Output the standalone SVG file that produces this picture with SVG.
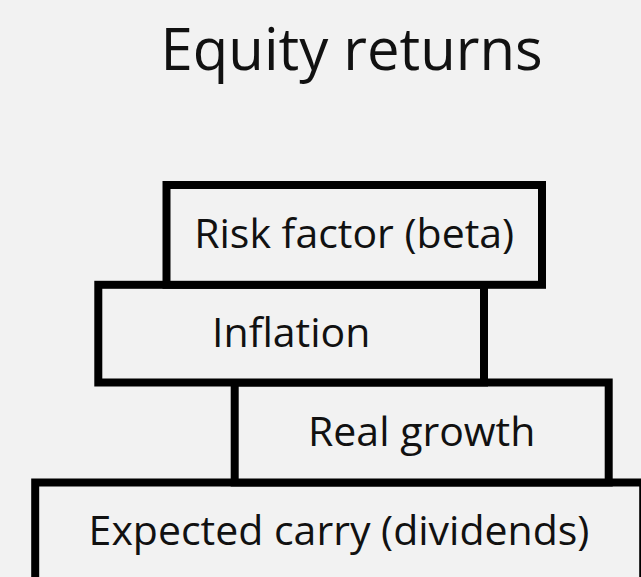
<svg xmlns="http://www.w3.org/2000/svg" width="641" height="577" viewBox="0 0 641 577">
  <style>
    .box { fill: #f2f2f2; stroke: #000000; stroke-width: 8; }
    .lbl { font-family: "Open Sans", "Noto Sans", "DejaVu Sans", sans-serif; font-size: 41px; fill: #111111; text-anchor: middle; }
    .title { font-family: "Open Sans", "Noto Sans", "DejaVu Sans", sans-serif; font-size: 58px; fill: #111111; text-anchor: middle; }
  </style>
  <rect x="0" y="0" width="641" height="577" fill="#f2f2f2"/>
  <text class="title" x="351.7" y="70">Equity returns</text>
  <g id="connectors"/>
  <g id="node-expected-carry">
    <rect class="box" x="35.2" y="482.5" width="608" height="100"/>
    <text class="lbl" x="339" y="545">Expected carry (dividends)</text>
  </g>
  <g id="node-real-growth">
    <rect class="box" x="234.7" y="382.5" width="374" height="100"/>
    <text class="lbl" x="421.7" y="445.5">Real growth</text>
  </g>
  <g id="node-inflation">
    <rect class="box" x="98.3" y="284.8" width="385.7" height="97.7"/>
    <text class="lbl" x="291.2" y="346.6">Inflation</text>
  </g>
  <g id="node-risk-factor">
    <rect class="box" x="166.5" y="185" width="375.5" height="99.8"/>
    <text class="lbl" x="354.2" y="247.7">Risk factor (beta)</text>
  </g>
</svg>
